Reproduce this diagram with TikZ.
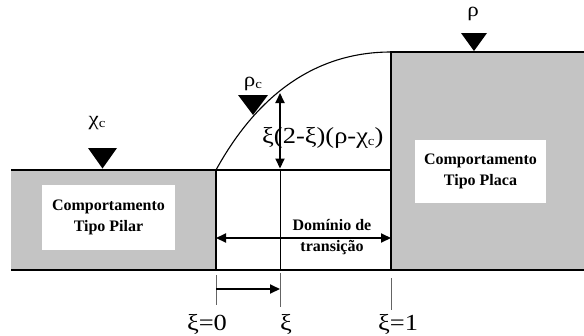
\documentclass[tikz,border=0pt]{standalone}
\usepackage{fontspec}
\setmainfont{Liberation Serif}
\newfontfamily\gkfont{Liberation Serif}[FakeStretch=1.15]
\usetikzlibrary{arrows.meta}
\definecolor{pattgray}{RGB}{196,196,196}
\definecolor{tickgray}{RGB}{100,100,100}
\newcommand\subc{\raisebox{-2pt}{\fontsize{13}{13}\selectfont c}}
\begin{document}
\begin{tikzpicture}[x=1pt,y=-1pt,
  shadefill/.style={fill=pattgray},
  outline/.style={line width=1.5pt},
  thinl/.style={line width=0.8pt},
  tickl/.style={line width=0.8pt, draw=tickgray},
  tri/.style={fill=black},
  dimarrow/.style={line width=2pt, {Triangle[length=10pt,width=9pt]}-{Triangle[length=10pt,width=9pt]}},
  onearrow/.style={line width=2pt, -{Triangle[length=10pt,width=9pt]}},
  labelbox/.style={fill=white, align=center, inner sep=0pt, font=\bfseries\fontsize{16}{21}\selectfont},
  greek/.style={font=\gkfont\fontsize{23}{25}\selectfont, inner sep=0pt, anchor=base},
  greeksm/.style={font=\gkfont\fontsize{20}{22}\selectfont, inner sep=0pt, anchor=base},
  boldtxt/.style={align=center, inner sep=0pt, font=\bfseries\fontsize{16}{21}\selectfont}
]
\useasboundingbox (0,0) rectangle (584,335);
% shaded regions
\fill[shadefill] (11,170) rectangle (216,270);
\fill[shadefill] (391,52) rectangle (584,270);
% white label boxes
\node[labelbox, minimum width=133pt, minimum height=65pt] (pilar) at (108.5,217.5) {Comportamento\\Tipo Pilar};
\node[labelbox, minimum width=131pt, minimum height=63pt] (placa) at (480.5,171.5) {Comportamento\\Tipo Placa};
% coordinates
\coordinate (l0) at (11,170);
\coordinate (a0) at (216,170);
\coordinate (a1) at (391,170);
\coordinate (b0) at (216,270);
\coordinate (bl) at (11,270);
\coordinate (br) at (584,270);
\coordinate (top0) at (391,52);
\coordinate (topr) at (584,52);
\coordinate (b1) at (391,270);
\coordinate (m0) at (280,170);
\coordinate (mb) at (280,270);
% outlines
\draw[outline] (l0) -- (a0) -- (b0);
\draw[outline] (a0) -- (a1);
\draw[outline] (bl) -- (br);
\draw[outline] (b1) -- (top0) -- (topr);
\draw[thinl] (m0) -- (mb);
% curve
\draw[line width=1.1pt] (a0) .. controls (260,90) and (320,52) .. (top0);
% vertical dimension
\coordinate (vt) at (280,93);
\coordinate (vb) at (280,168.5);
\draw[dimarrow] (vt) -- (vb);
\node[greek, anchor=base west] (expr) at (262,143) {ξ(2-ξ)(ρ-χ\subc)};
% domain arrow
\coordinate (d0) at (216,238);
\coordinate (d1) at (391,238);
\draw[dimarrow] (d0) -- (d1);
\node[boldtxt] (dom) at (332,237.5) {Domínio de\\transição};
% triangles
\fill[tri] (88,148) -- (117,148) -- (102.5,168.5) -- cycle;
\fill[tri] (238,95) -- (268,95) -- (253,115) -- cycle;
\fill[tri] (461,33) -- (487,33) -- (474,51) -- cycle;
% triangle labels
\node[greeksm] (chic) at (97,125) {χ\subc};
\node[greeksm] (rhoc) at (253,86) {ρ\subc};
\node[greeksm] (rho) at (473,16) {ρ};
% ticks
\coordinate (t0a) at (216,275); \coordinate (t0b) at (216,305);
\coordinate (tma) at (280,273); \coordinate (tmb) at (280,307);
\coordinate (t1a) at (391,278); \coordinate (t1b) at (391,310);
\draw[tickl] (t0a) -- (t0b);
\draw[tickl] (tma) -- (tmb);
\draw[tickl] (t1a) -- (t1b);
% small arrow
\coordinate (s0) at (216,289);
\coordinate (s1) at (280,289);
\draw[onearrow] (s0) -- (s1);
% xi labels
\node[greek] (xi0) at (207,330) {ξ=0};
\node[greek] (xi) at (286,330) {ξ};
\node[greek] (xi1) at (398,330) {ξ=1};
\end{tikzpicture}
\end{document}
